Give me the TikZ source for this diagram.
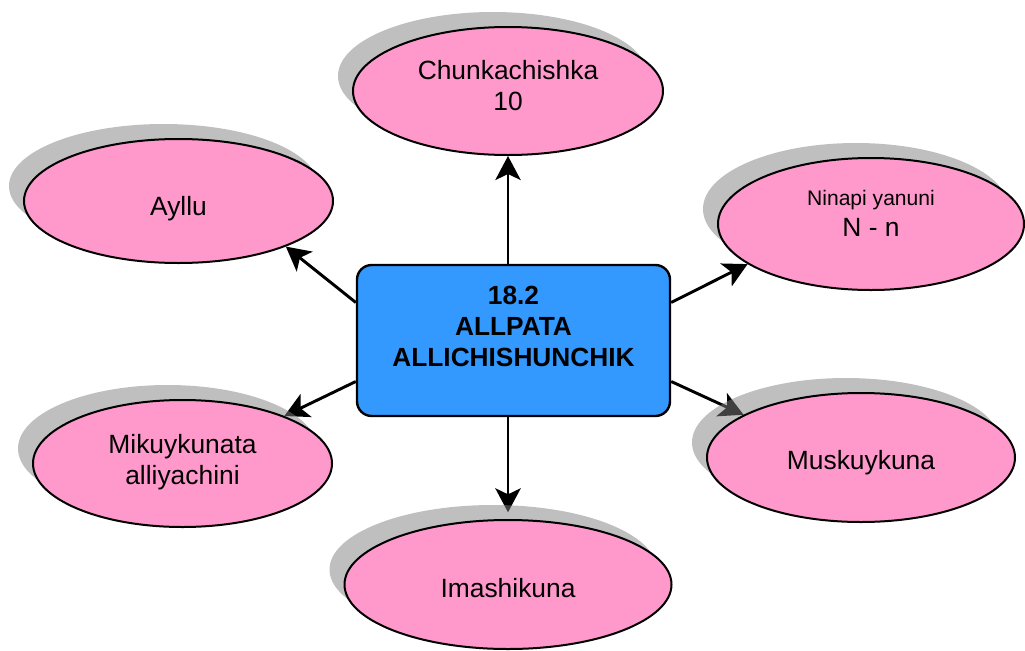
\documentclass[tikz,border=0pt]{standalone}
\usepackage{fontspec}
\setmainfont{Liberation Sans}
\usetikzlibrary{shapes.geometric,shadows,arrows.meta,calc}
\pgfdeclarelayer{background}
\pgfsetlayers{background,main}
\definecolor{pinkfill}{HTML}{FF99CC}
\definecolor{bluefill}{HTML}{3399FF}
\definecolor{shadowgray}{RGB}{128,128,128}
\tikzset{
  bubble/.style={ellipse, draw=black, line width=1.5pt, fill=pinkfill, inner sep=0pt,
    drop shadow={shadow xshift=-11.25pt, shadow yshift=11.25pt, fill=shadowgray, opacity=0.5}},
  txt/.style={font=\fontsize{19.8}{23.2}\selectfont, align=center, text=black, inner sep=0pt},
  boldtxt/.style={font=\fontsize{19.7}{23.1}\selectfont\bfseries, align=center, text=black, inner sep=0pt},
  hub/.style={rectangle, rounded corners=11pt, draw=black, line width=1.8pt, fill=bluefill,
    minimum width=234.75pt, minimum height=113.25pt},
  arr/.style={-{Stealth[length=18pt,width=19pt,inset=4.5pt]}, line width=2.2pt, draw=black},
}
\begin{document}
\begin{tikzpicture}[x=0.75pt,y=-0.75pt]
\useasboundingbox (0,0) rectangle (1025,650);

\node[hub, label={[boldtxt, yshift=10.5pt]center:{18.2\\ALLPATA\\ALLICHISHUNCHIK}}] (c) at (513.5,340.5) {};

\node[bubble, minimum width=232.5pt, minimum height=96pt,
  label={[txt, yshift=4pt]center:{Chunkachishka\\10}}] (top) at (508,91) {};
\node[bubble, minimum width=231.75pt, minimum height=93pt,
  label={[txt, yshift=-6pt]center:{Ayllu}}] (ay) at (178.5,201) {};
\node[bubble, minimum width=229.5pt, minimum height=99pt,
  label={[txt, yshift=8pt]center:{{\fontsize{15.8}{19}\selectfont Ninapi yanuni}\\N - n}}] (ni) at (871,224) {};
\node[bubble, minimum width=224.25pt, minimum height=95.25pt,
  label={[txt, yshift=1pt]center:{Mikuykunata\\alliyachini}}] (mi) at (182.5,463.5) {};
\node[bubble, minimum width=231pt, minimum height=96.75pt,
  label={[txt, yshift=-4pt]center:{Muskuykuna}}] (mu) at (861,457.5) {};
\node[bubble, minimum width=245.25pt, minimum height=96.75pt,
  label={[txt, yshift=-3pt]center:{Imashikuna}}] (im) at (508,584.5) {};

\begin{pgfonlayer}{background}
  \draw[arr] (top.south |- c.north) -- (top.south);
  \draw[arr] ($(c.west)+(0,-38)$) -- (ay.-23);
  \draw[arr] ($(c.east)+(0,-38)$) -- (ni.-162);
  \draw[arr] ($(c.west)+(0,41)$) -- (mi.25);
  \draw[arr] ($(c.east)+(0,41)$) -- (mu.160);
  \draw[arr, shorten >=5pt] (im.north |- c.south) -- (im.north);
\end{pgfonlayer}
\end{tikzpicture}
\end{document}
